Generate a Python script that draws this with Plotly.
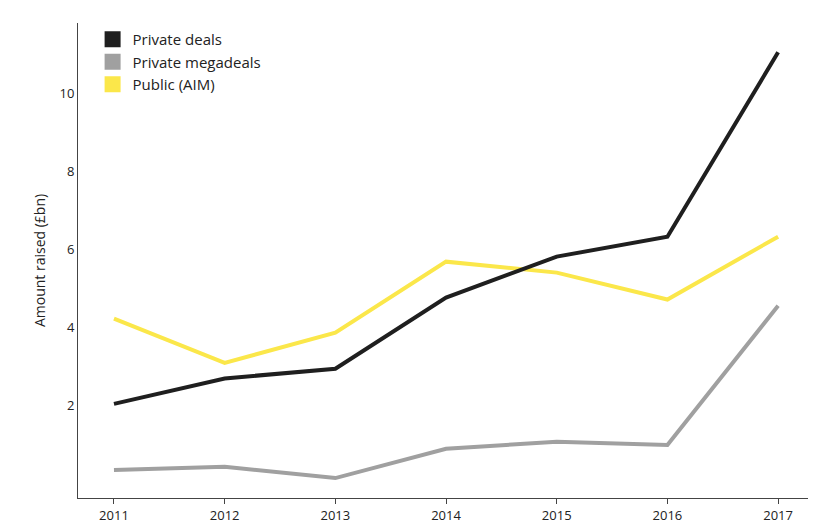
import plotly.graph_objects as go

years = [2011, 2012, 2013, 2014, 2015, 2016, 2017]
private_deals = [2.05, 2.7, 2.95, 4.77, 5.82, 6.33, 11.05]
private_megadeals = [0.36, 0.44, 0.15, 0.9, 1.08, 1.0, 4.56]
public_aim = [4.23, 3.1, 3.87, 5.69, 5.41, 4.72, 6.33]

series = [
    ("Private deals", private_deals, "#1f1f1f"),
    ("Private megadeals", private_megadeals, "#a0a0a0"),
    ("Public (AIM)", public_aim, "#fbe74a"),
]

fig = go.Figure()
# lines drawn in reverse so private deals sits on top
for name, vals, col in reversed(series):
    fig.add_trace(go.Scatter(x=years, y=vals, mode="lines", line=dict(color=col, width=4),
                             showlegend=False, hoverinfo="skip"))
# legend-only square markers
for name, vals, col in series:
    fig.add_trace(go.Scatter(x=[None], y=[None], mode="markers", name=name,
                             marker=dict(symbol="square", size=20, color=col)))

fig.update_layout(
    width=824, height=526,
    margin=dict(l=70, r=24, t=15, b=36, autoexpand=False),
    plot_bgcolor="white", paper_bgcolor="white",
    font=dict(family="Open Sans", size=13, color="#222"),
    legend=dict(x=0.02, y=1.0, xanchor="left", yanchor="top", font=dict(size=15),
                bgcolor="rgba(0,0,0,0)", tracegroupgap=2, itemsizing="trace"),
    xaxis=dict(range=[2010.675, 2017.27], tickvals=years, showgrid=False, zeroline=False,
               showline=True, linecolor="#444", ticks="outside", ticklen=5, tickcolor="#444",
               automargin=False, tickfont=dict(size=13)),
    yaxis=dict(range=[-0.36, 11.8], tickvals=[2, 4, 6, 8, 10], showgrid=False, zeroline=False,
               showline=True, linecolor="#444", ticks="", automargin=False,
               tickfont=dict(size=13),
               title=dict(text="Amount raised (£bn)", standoff=10, font=dict(size=14))),
)

fig.write_html("out.html")
